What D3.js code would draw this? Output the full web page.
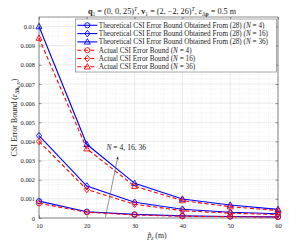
<!DOCTYPE html>
<html>
<head>
<meta charset="utf-8">
<script src="https://cdn.jsdelivr.net/npm/d3@7"></script>
<style>
  body { margin: 0; background: #fff; }
  text { font-family: "Liberation Serif", "DejaVu Serif", serif; fill: #222; }
</style>
</head>
<body>
<svg id="root"></svg>
<script>
// CSI error bound vs p_z, theoretical (blue) vs actual (red)

const xs = [10, 20, 30, 40, 50, 60];
const theoN4 = [0.00088, 0.00033, 0.00019, 0.00011, 0.00008, 0.00006];
const theoN16 = [0.0043, 0.00167, 0.00082, 0.00046, 0.0003, 0.00022];
const theoN36 = [0.01, 0.00385, 0.00181, 0.00099, 0.00068, 0.00045];
const actN4 = [0.00077, 0.0003, 0.00016, 0.00009, 0.00007, 0.00005];
const actN16 = [0.004, 0.00149, 0.00072, 0.00038, 0.00025, 0.00018];
const actN36 = [0.0094, 0.00362, 0.00166, 0.00091, 0.00059, 0.00039];

const xTicks = [10, 20, 30, 40, 50, 60];
const yTicks = [0, 0.001, 0.002, 0.003, 0.004, 0.005, 0.006, 0.007, 0.008, 0.009, 0.01];
const yTickLabels = ["0", "0.001", "0.002", "0.003", "0.004", "0.005", "0.006", "0.007", "0.008", "0.009", "0.01"];

const legendNames = [
  ["Theoretical CSI Error Bound Obtained From (28) (", "N", " = 4)"],
  ["Theoretical CSI Error Bound Obtained From (28) (", "N", " = 16)"],
  ["Theoretical CSI Error Bound Obtained From (28) (", "N", " = 36)"],
  ["Actual CSI Error Bound (", "N", " = 4)"],
  ["Actual CSI Error Bound (", "N", " = 16)"],
  ["Actual CSI Error Bound (", "N", " = 36)"]
];

const series = [
  { values: theoN4, color: "#0000ff", dash: null, marker: "circle" },
  { values: theoN16, color: "#0000ff", dash: null, marker: "diamond" },
  { values: theoN36, color: "#0000ff", dash: null, marker: "triangle" },
  { values: actN4, color: "#ff0000", dash: "4,2.5", marker: "circle" },
  { values: actN16, color: "#ff0000", dash: "4,2.5", marker: "diamond" },
  { values: actN36, color: "#ff0000", dash: "4,2.5", marker: "triangle" }
];

const W = 305, H = 245;
const margin = { top: 17, right: 27, bottom: 27, left: 39 };
const width = W - margin.left - margin.right,
  height = H - margin.top - margin.bottom;

const svg = d3.select("#root").attr("width", W).attr("height", H);
const g = svg.append("g").attr("transform", `translate(${margin.left},${margin.top})`);

const xScale = d3.scaleLinear([10, 60], [0, width]);
const yScale = d3.scaleLinear([0, 0.0105], [height, 0]);

// minor grid (dotted)
const xMinor = d3.range(10, 60.01, 2);
const yMinor = d3.range(0, 0.0105, 0.00025);
g.append("g").selectAll("line").data(xMinor).join("line")
  .attr("x1", d => xScale(d)).attr("x2", d => xScale(d))
  .attr("y1", 0).attr("y2", height)
  .attr("stroke", "#e2e2e2").attr("stroke-width", 0.5).attr("stroke-dasharray", "1,1.2");
g.append("g").selectAll("line").data(yMinor).join("line")
  .attr("y1", d => yScale(d)).attr("y2", d => yScale(d))
  .attr("x1", 0).attr("x2", width)
  .attr("stroke", "#e2e2e2").attr("stroke-width", 0.5).attr("stroke-dasharray", "1,1.2");

// major grid
g.append("g").selectAll("line").data(xTicks).join("line")
  .attr("x1", d => xScale(d)).attr("x2", d => xScale(d))
  .attr("y1", 0).attr("y2", height)
  .attr("stroke", "#dcdcdc").attr("stroke-width", 0.5);
g.append("g").selectAll("line").data(yTicks).join("line")
  .attr("y1", d => yScale(d)).attr("y2", d => yScale(d))
  .attr("x1", 0).attr("x2", width)
  .attr("stroke", "#dcdcdc").attr("stroke-width", 0.5);

// axes (ticks inward, mirrored)
const axisStyle = sel => {
  sel.select(".domain").remove();
  sel.selectAll("line").attr("stroke", "#333").attr("stroke-width", 0.5);
  sel.selectAll("text").style("font-size", "6.4px").attr("fill", "#333");
};
g.append("g").attr("transform", `translate(0,${height})`)
  .call(d3.axisBottom(xScale).tickValues(xTicks).tickSizeInner(-2.5).tickSizeOuter(0).tickPadding(5))
  .call(axisStyle);
g.append("g")
  .call(d3.axisTop(xScale).tickValues(xTicks).tickSizeInner(-2.5).tickSizeOuter(0).tickFormat(""))
  .call(axisStyle);
g.append("g")
  .call(d3.axisLeft(yScale).tickValues(yTicks).tickSizeInner(-2.5).tickSizeOuter(0).tickPadding(4)
    .tickFormat((d, i) => yTickLabels[i]))
  .call(axisStyle);
g.append("g").attr("transform", `translate(${width},0)`)
  .call(d3.axisRight(yScale).tickValues(yTicks).tickSizeInner(-2.5).tickSizeOuter(0).tickFormat(""))
  .call(axisStyle);
g.append("rect").attr("width", width).attr("height", height)
  .attr("fill", "none").attr("stroke", "#444").attr("stroke-width", 0.6);

// markers
function drawMarker(sel, type, color) {
  if (type === "circle") {
    sel.append("circle").attr("r", 2.6);
  } else if (type === "diamond") {
    sel.append("path").attr("d", "M0,-3.3L2.6,0L0,3.3L-2.6,0Z");
  } else {
    sel.append("path").attr("d", "M0,-3.2L3,2.2L-3,2.2Z");
  }
  sel.selectAll("circle,path").attr("fill", "none").attr("stroke", color).attr("stroke-width", 0.9);
}

const line = d3.line().x((d, i) => xScale(xs[i])).y(d => yScale(d));

series.forEach(s => {
  g.append("path").datum(s.values)
    .attr("fill", "none").attr("stroke", s.color).attr("stroke-width", 1.1)
    .attr("stroke-dasharray", s.dash).attr("d", line);
  s.values.forEach((v, i) => {
    const m = g.append("g").attr("transform", `translate(${xScale(xs[i])},${yScale(v)})`);
    drawMarker(m, s.marker, s.color);
  });
});

// annotation arrow
const defs = svg.append("defs");
defs.append("marker").attr("id", "arrow").attr("viewBox", "0 0 10 10")
  .attr("refX", 9).attr("refY", 5).attr("markerWidth", 5).attr("markerHeight", 5)
  .attr("orient", "auto")
  .append("path").attr("d", "M0,1L10,5L0,9Z").attr("fill", "#222");
g.append("line")
  .attr("x1", xScale(23.9)).attr("y1", yScale(0.00005))
  .attr("x2", xScale(26.5)).attr("y2", yScale(0.00320))
  .attr("stroke", "#444").attr("stroke-width", 0.6).attr("marker-end", "url(#arrow)");
const ann = g.append("text").attr("x", xScale(24.1)).attr("y", yScale(0.00355))
  .style("font-size", "7.6px");
ann.append("tspan").style("font-style", "italic").text("N");
ann.append("tspan").text(" = 4, 16, 36");

// legend
const lg = g.append("g").attr("transform", `translate(${xScale(17.6)},2)`);
const rowH = 8.3;
lg.append("rect").attr("width", 201).attr("height", 53)
  .attr("fill", "#fff").attr("stroke", "#555").attr("stroke-width", 0.5);
series.forEach((s, i) => {
  const cy = 6.3 + i * rowH;
  lg.append("line").attr("x1", 2).attr("x2", 22).attr("y1", cy).attr("y2", cy)
    .attr("stroke", s.color).attr("stroke-width", 1.1).attr("stroke-dasharray", s.dash);
  const m = lg.append("g").attr("transform", `translate(12,${cy})`);
  drawMarker(m, s.marker, s.color);
  const t = lg.append("text").attr("x", 23.5).attr("y", cy + 2.3).style("font-size", "7.2px");
  t.append("tspan").text(legendNames[i][0]);
  t.append("tspan").style("font-style", "italic").text(legendNames[i][1]);
  t.append("tspan").text(legendNames[i][2]);
});

// title
const title = svg.append("text").attr("x", 162).attr("y", 14)
  .attr("text-anchor", "middle").style("font-size", "8.2px");
title.append("tspan").style("font-weight", "bold").text("q");
title.append("tspan").attr("dy", 1.5).style("font-size", "5.6px").text("1");
title.append("tspan").attr("dy", -1.5).text(" = (0, 0, 25)");
title.append("tspan").attr("dy", -2.8).style("font-size", "5.6px").style("font-style", "italic").text("T");
title.append("tspan").attr("dy", 2.8).text(", ");
title.append("tspan").style("font-weight", "bold").text("v");
title.append("tspan").attr("dy", 1.5).style("font-size", "5.6px").text("1");
title.append("tspan").attr("dy", -1.5).text(" = (2, \u22122, 26)");
title.append("tspan").attr("dy", -2.8).style("font-size", "5.6px").style("font-style", "italic").text("T");
title.append("tspan").attr("dy", 2.8).text(", ");
title.append("tspan").style("font-style", "italic").text("\u03b5");
title.append("tspan").attr("dy", 1.5).style("font-size", "5.6px").text("\u0394");
title.append("tspan").style("font-size", "5.6px").style("font-weight", "bold").text("p");
title.append("tspan").attr("dy", -1.5).text(" = 0.5 m");

// x label
const xl = svg.append("text").attr("x", 157).attr("y", 238)
  .attr("text-anchor", "middle").style("font-size", "7.8px");
xl.append("tspan").style("font-style", "italic").text("p\u0303");
xl.append("tspan").attr("dy", 1.5).style("font-size", "5.4px").style("font-style", "italic").text("z");
xl.append("tspan").attr("dy", -1.5).text(" (m)");

// y label
const yl = svg.append("text").attr("transform", `translate(17,${margin.top + height / 2}) rotate(-90)`)
  .attr("text-anchor", "middle").style("font-size", "8px");
yl.append("tspan").text("CSI Error Bound (");
yl.append("tspan").style("font-style", "italic").text("\u03b5");
yl.append("tspan").attr("dy", 1.5).style("font-size", "5.3px").text("\u0394");
yl.append("tspan").style("font-size", "5.3px").style("font-weight", "bold").text("h");
yl.append("tspan").attr("dy", 1).style("font-size", "4.2px").style("font-style", "italic").text("k,M");
yl.append("tspan").attr("dy", -2.5).text(")");
</script>
</body>
</html>
